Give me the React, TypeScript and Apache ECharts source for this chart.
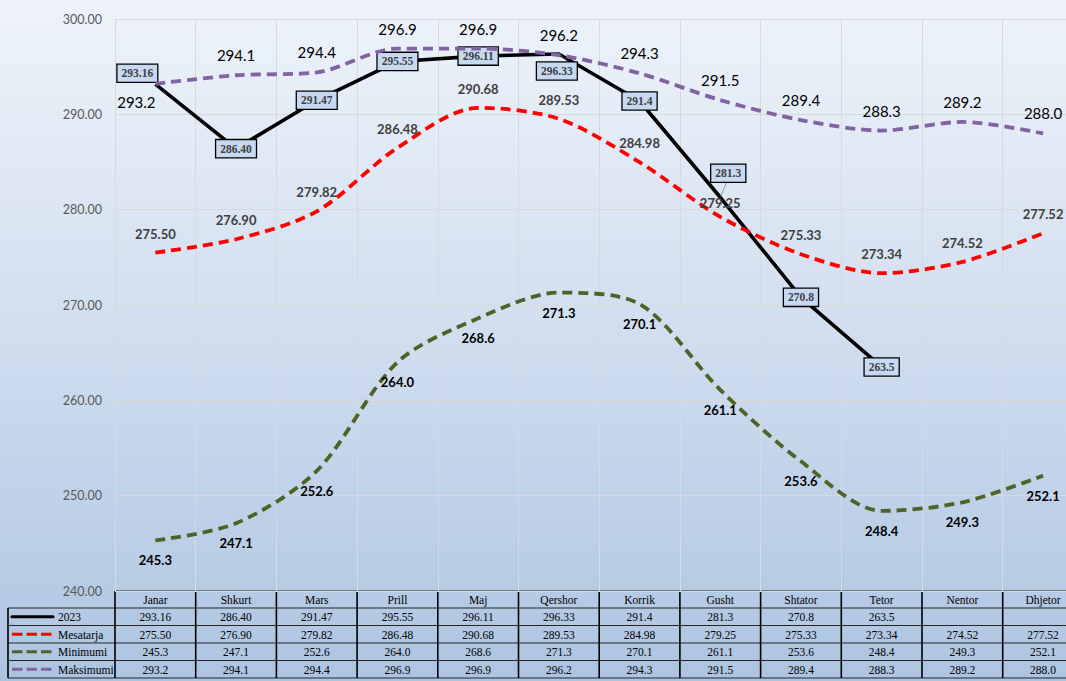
import React, { useEffect, useRef } from "react";
import * as echarts from "echarts";

// ---------- data ----------
const months = ["Janar", "Shkurt", "Mars", "Prill", "Maj", "Qershor", "Korrik", "Gusht", "Shtator", "Tetor", "Nentor", "Dhjetor"];
const y2023 = ["293.16", "286.40", "291.47", "295.55", "296.11", "296.33", "291.4", "281.3", "270.8", "263.5"];
const mesatarja = ["275.50", "276.90", "279.82", "286.48", "290.68", "289.53", "284.98", "279.25", "275.33", "273.34", "274.52", "277.52"];
const minimumi = ["245.3", "247.1", "252.6", "264.0", "268.6", "271.3", "270.1", "261.1", "253.6", "248.4", "249.3", "252.1"];
const maksimumi = ["293.2", "294.1", "294.4", "296.9", "296.9", "296.2", "294.3", "291.5", "289.4", "288.3", "289.2", "288.0"];
const seriesNames = ["2023", "Mesatarja", "Minimumi", "Maksimumi"];
const yMin = 240;
const yMax = 300;
const yStep = 10;

// ---------- label placement (style, not data) ----------
const off2023 = [[-18, -11], [0, 0], [0, 0], [0, 0], [0, 0], [-2, 17], [0, 0], [8, -24], [0, 0], [0, 0]];
const offMean = months.map((_, i) => (i === 7 ? [0, -13.5] : [0, -19]));
const offMin = months.map(() => [0, 20]);
const offMax = months.map((_, i) => (i === 0 ? [-19, 18.5] : [0, -20]));

// ---------- layout ----------
const CHART_W = 1090;
const CHART_H = 681;
const GRID_L = 115;
const GRID_T = 19;
const GRID_H = 572;
const CW = 80.7;
const GRID_W = CW * 12;
const ROWS = [591, 608, 625.5, 643, 660.5, 678];
const LEG_L = 8;

const colors = ["#000000", "#ff0000", "#4f6228", "#8064a2"];
const SANS = "Lato";
const SERIF = "Liberation Serif";

function buildTable(): any[] {
  const els: any[] = [];
  const right = GRID_L + GRID_W;
  const hStroke = { stroke: "#262626", lineWidth: 1 };
  const vStroke = { stroke: "#000000", lineWidth: 1.6 };
  els.push({ type: "line", shape: { x1: GRID_L, y1: ROWS[0], x2: right, y2: ROWS[0] }, style: hStroke });
  for (let r = 1; r < ROWS.length; r++) {
    els.push({ type: "line", shape: { x1: LEG_L, y1: ROWS[r], x2: right, y2: ROWS[r] }, style: hStroke });
  }
  els.push({ type: "line", shape: { x1: LEG_L, y1: ROWS[1], x2: LEG_L, y2: ROWS[5] }, style: vStroke });
  for (let c = 0; c <= 12; c++) {
    const x = GRID_L + c * CW;
    els.push({ type: "line", shape: { x1: x, y1: ROWS[0], x2: x, y2: ROWS[5] }, style: vStroke });
  }
  const txt = (text: string, x: number, y: number, align: string) => ({
    type: "text",
    x,
    y,
    style: {
      text,
      fill: "#000",
      fontSize: 11.5,
      fontFamily: SERIF,
      fontWeight: "normal",
      align,
      verticalAlign: "middle",
      textAlign: align,
      textVerticalAlign: "middle",
    },
  });
  months.forEach((m, i) => {
    els.push(txt(m, GRID_L + (i + 0.5) * CW, (ROWS[0] + ROWS[1]) / 2 + 0.5, "center"));
  });
  const rowsData = [y2023, mesatarja, minimumi, maksimumi];
  rowsData.forEach((arr, r) => {
    const cy = (ROWS[r + 1] + ROWS[r + 2]) / 2 + 0.5;
    months.forEach((_, i) => {
      const s = arr[i] ?? "";
      if (s) els.push(txt(s, GRID_L + (i + 0.5) * CW, cy, "center"));
    });
    els.push({
      type: "line",
      shape: { x1: 12, y1: cy - 0.5, x2: 53, y2: cy - 0.5 },
      style: {
        stroke: colors[r],
        lineWidth: 3.2,
        lineDash: r === 0 ? null : [10.5, 4],
        lineCap: r === 0 ? "round" : "butt",
      },
    });
    els.push(txt(seriesNames[r], 58, cy, "left"));
  });
  return els;
}

function makeSeries(idx: number, arr: string[], offs: number[][], labelStyle: any, extra: any = {}) {
  return {
    name: seriesNames[idx],
    type: "line",
    smooth: idx === 0 ? false : 0.3,
    symbol: "circle",
    symbolSize: 1,
    showSymbol: true,
    itemStyle: { color: "rgba(0,0,0,0)", borderWidth: 0 },
    lineStyle: {
      color: colors[idx],
      width: idx === 0 ? 3.6 : 3.8,
      type: idx === 0 ? "solid" : [10, 6],
    },
    data: arr.map((s, i) => ({
      value: Number(s),
      label: { offset: offs[i] },
      ...(extra[i] || {}),
    })),
    label: {
      show: true,
      position: "inside",
      formatter: (p: any) => arr[p.dataIndex],
      ...labelStyle,
    },
    z: 2 + idx,
    silent: true,
  };
}

export default function App() {
  const ref = useRef<HTMLDivElement>(null);
  useEffect(() => {
    if (!ref.current) return;
    const chart = echarts.init(ref.current, undefined, { renderer: "svg" });
    const leader = { labelLine: { show: true, lineStyle: { color: "#7f7f7f", width: 0.8 } } };
    chart.setOption({
      animation: false,
      backgroundColor: "transparent",
      grid: { left: GRID_L, top: GRID_T, width: GRID_W, height: GRID_H, containLabel: false },
      xAxis: {
        type: "category",
        data: months,
        boundaryGap: true,
        axisLine: { show: false },
        axisTick: { show: false },
        axisLabel: { show: false, interval: 0 },
        splitLine: { show: true, interval: 0, lineStyle: { color: "#d9d9d9", width: 1 } },
      },
      yAxis: {
        type: "value",
        min: yMin,
        max: yMax,
        interval: yStep,
        axisLine: { show: false },
        axisTick: { show: false },
        axisLabel: {
          margin: 13,
          color: "#595959",
          fontFamily: SANS,
          fontSize: 12.5,
          formatter: (v: number) => v.toFixed(2),
        },
        splitLine: { show: true, lineStyle: { color: "#d9d9d9", width: 1 } },
      },
      series: [
        makeSeries(
          0,
          y2023,
          off2023,
          {
            backgroundColor: "#c6d9f1",
            borderColor: "#000",
            borderWidth: 1.3,
            padding: [3, 4, 2, 4],
            fontFamily: SERIF,
            fontWeight: "bold",
            fontSize: 11.5,
            color: "#404040",
          },
          { 5: leader, 7: leader }
        ),
        makeSeries(1, mesatarja, offMean, { fontFamily: SANS, fontWeight: "bold", fontSize: 13, color: "#404040" }),
        makeSeries(2, minimumi, offMin, { fontFamily: SANS, fontWeight: "bold", fontSize: 13, color: "#000000" }),
        makeSeries(3, maksimumi, offMax, { fontFamily: SANS, fontWeight: "normal", fontSize: 15, color: "#000000" }),
      ],
      graphic: buildTable(),
    });
    return () => chart.dispose();
  }, []);
  return (
    <div
      style={{
        position: "fixed",
        left: 0,
        top: 0,
        width: 1066,
        height: 681,
        overflow: "hidden",
        background: "linear-gradient(180deg, #eef3fa 0%, #d3e0f0 45%, #adc4e1 100%)",
      }}
    >
      <div ref={ref} style={{ width: CHART_W, height: CHART_H }} />
    </div>
  );
}
